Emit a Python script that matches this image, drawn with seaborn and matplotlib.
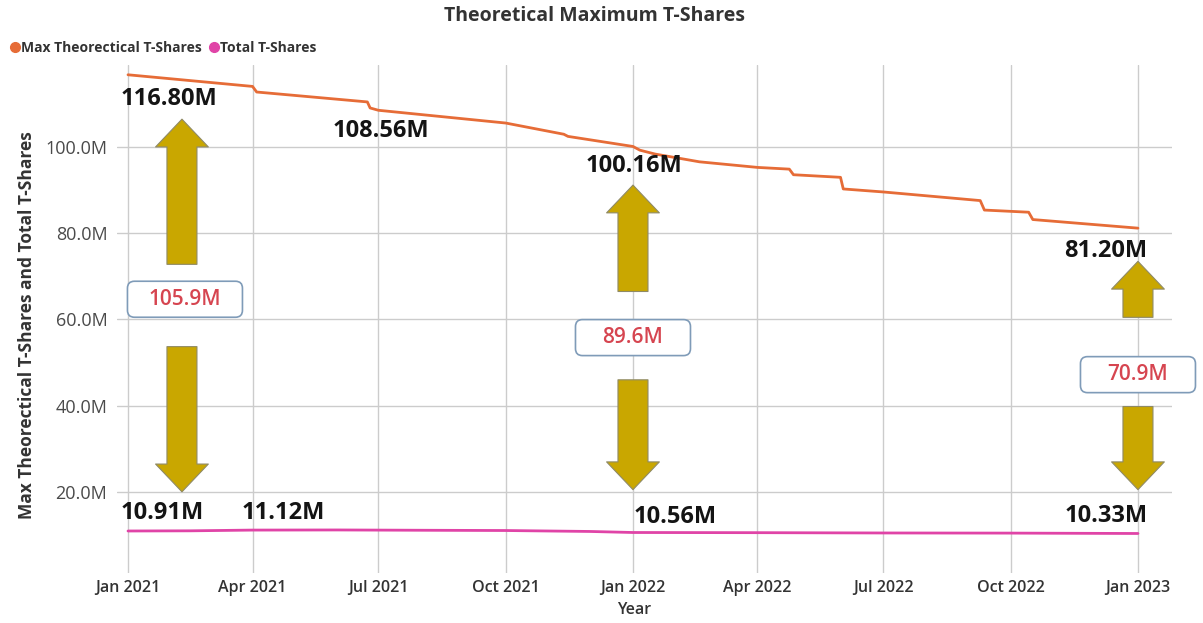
import matplotlib
matplotlib.use("Agg")
import matplotlib.pyplot as plt
import matplotlib.dates as mdates
import matplotlib.transforms as mtransforms
from matplotlib.patches import FancyArrowPatch, FancyBboxPatch, ArrowStyle
from matplotlib.lines import Line2D
from matplotlib.ticker import FixedLocator, FuncFormatter
import pandas as pd
import seaborn as sns

# ---- data (values in millions of T-Shares) ----
max_dates = ["2021-01-01", "2021-04-01", "2021-04-04", "2021-06-23", "2021-06-25",
             "2021-07-01", "2021-10-01", "2021-11-12", "2021-11-15", "2022-01-01",
             "2022-01-06", "2022-01-17", "2022-02-18", "2022-04-01", "2022-04-24",
             "2022-04-27", "2022-05-31", "2022-06-02", "2022-07-01", "2022-09-09",
             "2022-09-12", "2022-10-14", "2022-10-17", "2023-01-01"]
max_values = [116.80, 114.1, 112.8, 110.5, 109.1,
              108.56, 105.6, 103.0, 102.5, 100.16,
              99.3, 98.4, 96.6, 95.3, 94.9,
              93.6, 93.0, 90.3, 89.6, 87.6,
              85.4, 84.9, 83.2, 81.20]

total_dates = ["2021-01-01", "2021-02-15", "2021-04-01", "2021-06-01", "2021-08-01",
               "2021-10-01", "2021-12-01", "2022-01-01", "2022-04-01", "2022-07-01",
               "2022-10-01", "2023-01-01"]
total_values = [10.91, 10.95, 11.12, 11.15, 11.08,
                11.02, 10.80, 10.56, 10.52, 10.45,
                10.42, 10.33]

series_names = ["Max Theorectical T-Shares", "Total T-Shares"]
series_colors = ["#E66C37", "#E044A7"]

# dates where the gap between the two series is called out
gap_dates = ["2021-01-01", "2022-01-01", "2023-01-01"]

y_ticks = [20, 40, 60, 80, 100]
x_ticks = ["2021-01-01", "2021-04-01", "2021-07-01", "2021-10-01", "2022-01-01",
           "2022-04-01", "2022-07-01", "2022-10-01", "2023-01-01"]
x_tick_labels = ["Jan 2021", "Apr 2021", "Jul 2021", "Oct 2021", "Jan 2022",
                 "Apr 2022", "Jul 2022", "Oct 2022", "Jan 2023"]

# ---- long-format frame for seaborn ----
df = pd.concat([
    pd.DataFrame({"Year": pd.to_datetime(max_dates), "value": max_values,
                  "series": series_names[0]}),
    pd.DataFrame({"Year": pd.to_datetime(total_dates), "value": total_values,
                  "series": series_names[1]}),
], ignore_index=True)

sns.set_theme(style="whitegrid")
plt.rcParams["font.family"] = ["Open Sans", "DejaVu Sans"]

TEXT = "#333333"
fig = plt.figure(figsize=(12.03, 6.23), dpi=100)
ax = fig.add_axes([117 / 1203, 1 - 573 / 623, 1055 / 1203, 508 / 623])

sns.lineplot(data=df, x="Year", y="value", hue="series", hue_order=series_names,
             palette=series_colors, estimator=None, sort=True, linewidth=2,
             legend=False, ax=ax)

d0 = mdates.date2num(pd.Timestamp("2021-01-01"))
d1 = mdates.date2num(pd.Timestamp("2023-01-01"))
ax.set_xlim(d0 - 7.95, d1 + 24.6)
ax.set_ylim(1.16, 119.07)

ax.xaxis.set_major_locator(FixedLocator([mdates.date2num(pd.Timestamp(d)) for d in x_ticks]))
ax.set_xticklabels(x_tick_labels)
ax.yaxis.set_major_locator(FixedLocator(y_ticks))
ax.yaxis.set_major_formatter(FuncFormatter(lambda v, _: f"{v:.1f}M"))
ax.tick_params(axis="both", length=0, labelcolor=TEXT)
ax.tick_params(axis="y", pad=7, labelsize=13, labelcolor="#4a4a4a")
ax.tick_params(axis="x", pad=5, labelsize=11.5)
for lbl in ax.get_xticklabels():
    lbl.set_fontweight("semibold")
ax.grid(True, color="#cccccc", linewidth=1)
for s in ax.spines.values():
    s.set_visible(False)
ax.set_xlabel("")
ax.set_ylabel("")

fig.text(634 / 1203, 1 - 610 / 623, "Year", ha="center", va="center",
         fontsize=11.5, fontweight="semibold", color=TEXT)
fig.text(27 / 1203, 1 - 325 / 623, "Max Theorectical T-Shares and Total T-Shares",
         rotation=90, ha="center", va="center", fontsize=12.5, fontweight="bold", color=TEXT)
fig.text(595 / 1203, 1 - 16 / 623, "Theoretical Maximum T-Shares", ha="center",
         va="center", fontsize=14, fontweight="bold", color=TEXT)

handles = [Line2D([], [], linestyle="", marker="o", markersize=7,
                  markerfacecolor=c, markeredgecolor=c) for c in series_colors]
fig.legend(handles, series_names, loc="center left",
           bbox_to_anchor=(10 / 1203, 1 - 48 / 623), ncol=2, frameon=False,
           handlelength=0.7, handletextpad=0.1, columnspacing=0.5,
           borderpad=0, borderaxespad=0,
           prop={"size": 10, "weight": "bold"}, labelcolor=TEXT)


def ts(d):
    return mdates.date2num(pd.Timestamp(d))


def value_at(dates, values, d):
    return values[dates.index(d)]


# ---- data labels ----
label_kw = dict(textcoords="offset pixels", ha="center", va="center",
                fontsize=17, fontweight="bold", color="#141414", annotation_clip=False)
max_labels = [("2021-01-01", 41, 24), ("2021-07-01", 2, 21),
              ("2022-01-01", 1, 20), ("2023-01-01", -32, 23)]
for d, dx, dy in max_labels:
    v = value_at(max_dates, max_values, d)
    ax.annotate(f"{v:.2f}M", (ts(d), v), xytext=(dx, -dy), **label_kw)
total_labels = [("2021-01-01", 34, 18), ("2021-04-01", 31, 17),
                ("2022-01-01", 42, 16), ("2023-01-01", -32, 17)]
for d, dx, dy in total_labels:
    v = value_at(total_dates, total_values, d)
    ax.annotate(f"{v:.2f}M", (ts(d), v), xytext=(dx, dy), **label_kw)

# ---- gap call-outs: arrows and value boxes ----
ARROW_FC = "#C9A700"
ARROW_EC = "#8f8a66"
arrow_style = ArrowStyle.Simple(head_length=20, head_width=38, tail_width=21.6)
# (x date, up-arrow base, up-arrow tip, box centre, down-arrow base, down-arrow tip)
gap_layout = [("2021-02-09", 72.8, 106.5, 64.7, 53.7, 20.0),
              ("2022-01-01", 66.5, 91.2, 55.8, 46.0, 20.5),
              ("2023-01-01", 60.5, 73.5, 47.2, 39.8, 20.5)]
box_dx = [3, 0, 0]

fig.canvas.draw()
for (gd, (xd, ub, ut, bc, db, dt), bdx) in zip(gap_dates, gap_layout, box_dx):
    x = ts(xd)
    for a, b in ((ub, ut), (db, dt)):
        arr = FancyArrowPatch((x, a), (x, b), arrowstyle=arrow_style,
                              mutation_scale=1, shrinkA=0, shrinkB=0,
                              facecolor=ARROW_FC, edgecolor=ARROW_EC,
                              linewidth=0.8, clip_on=False, zorder=4)
        ax.add_patch(arr)
    gap = value_at(max_dates, max_values, gd) - value_at(total_dates, total_values, gd)
    cx, cy = ax.transData.transform((x, bc))
    cx += bdx
    box = FancyBboxPatch((cx - 57.5, cy - 18), 115, 36,
                         boxstyle="round,pad=0,rounding_size=7",
                         transform=mtransforms.IdentityTransform(),
                         facecolor="white", edgecolor="#7f9bb8", linewidth=1.2,
                         clip_on=False, zorder=5)
    fig.patches.append(box)
    box.set_figure(fig)
    fig.text(cx / fig.bbox.width, cy / fig.bbox.height, f"{gap:.1f}M",
             ha="center", va="center", fontsize=15, fontweight="semibold",
             color="#D64550", zorder=6)

fig.savefig("out.png", dpi=100)
